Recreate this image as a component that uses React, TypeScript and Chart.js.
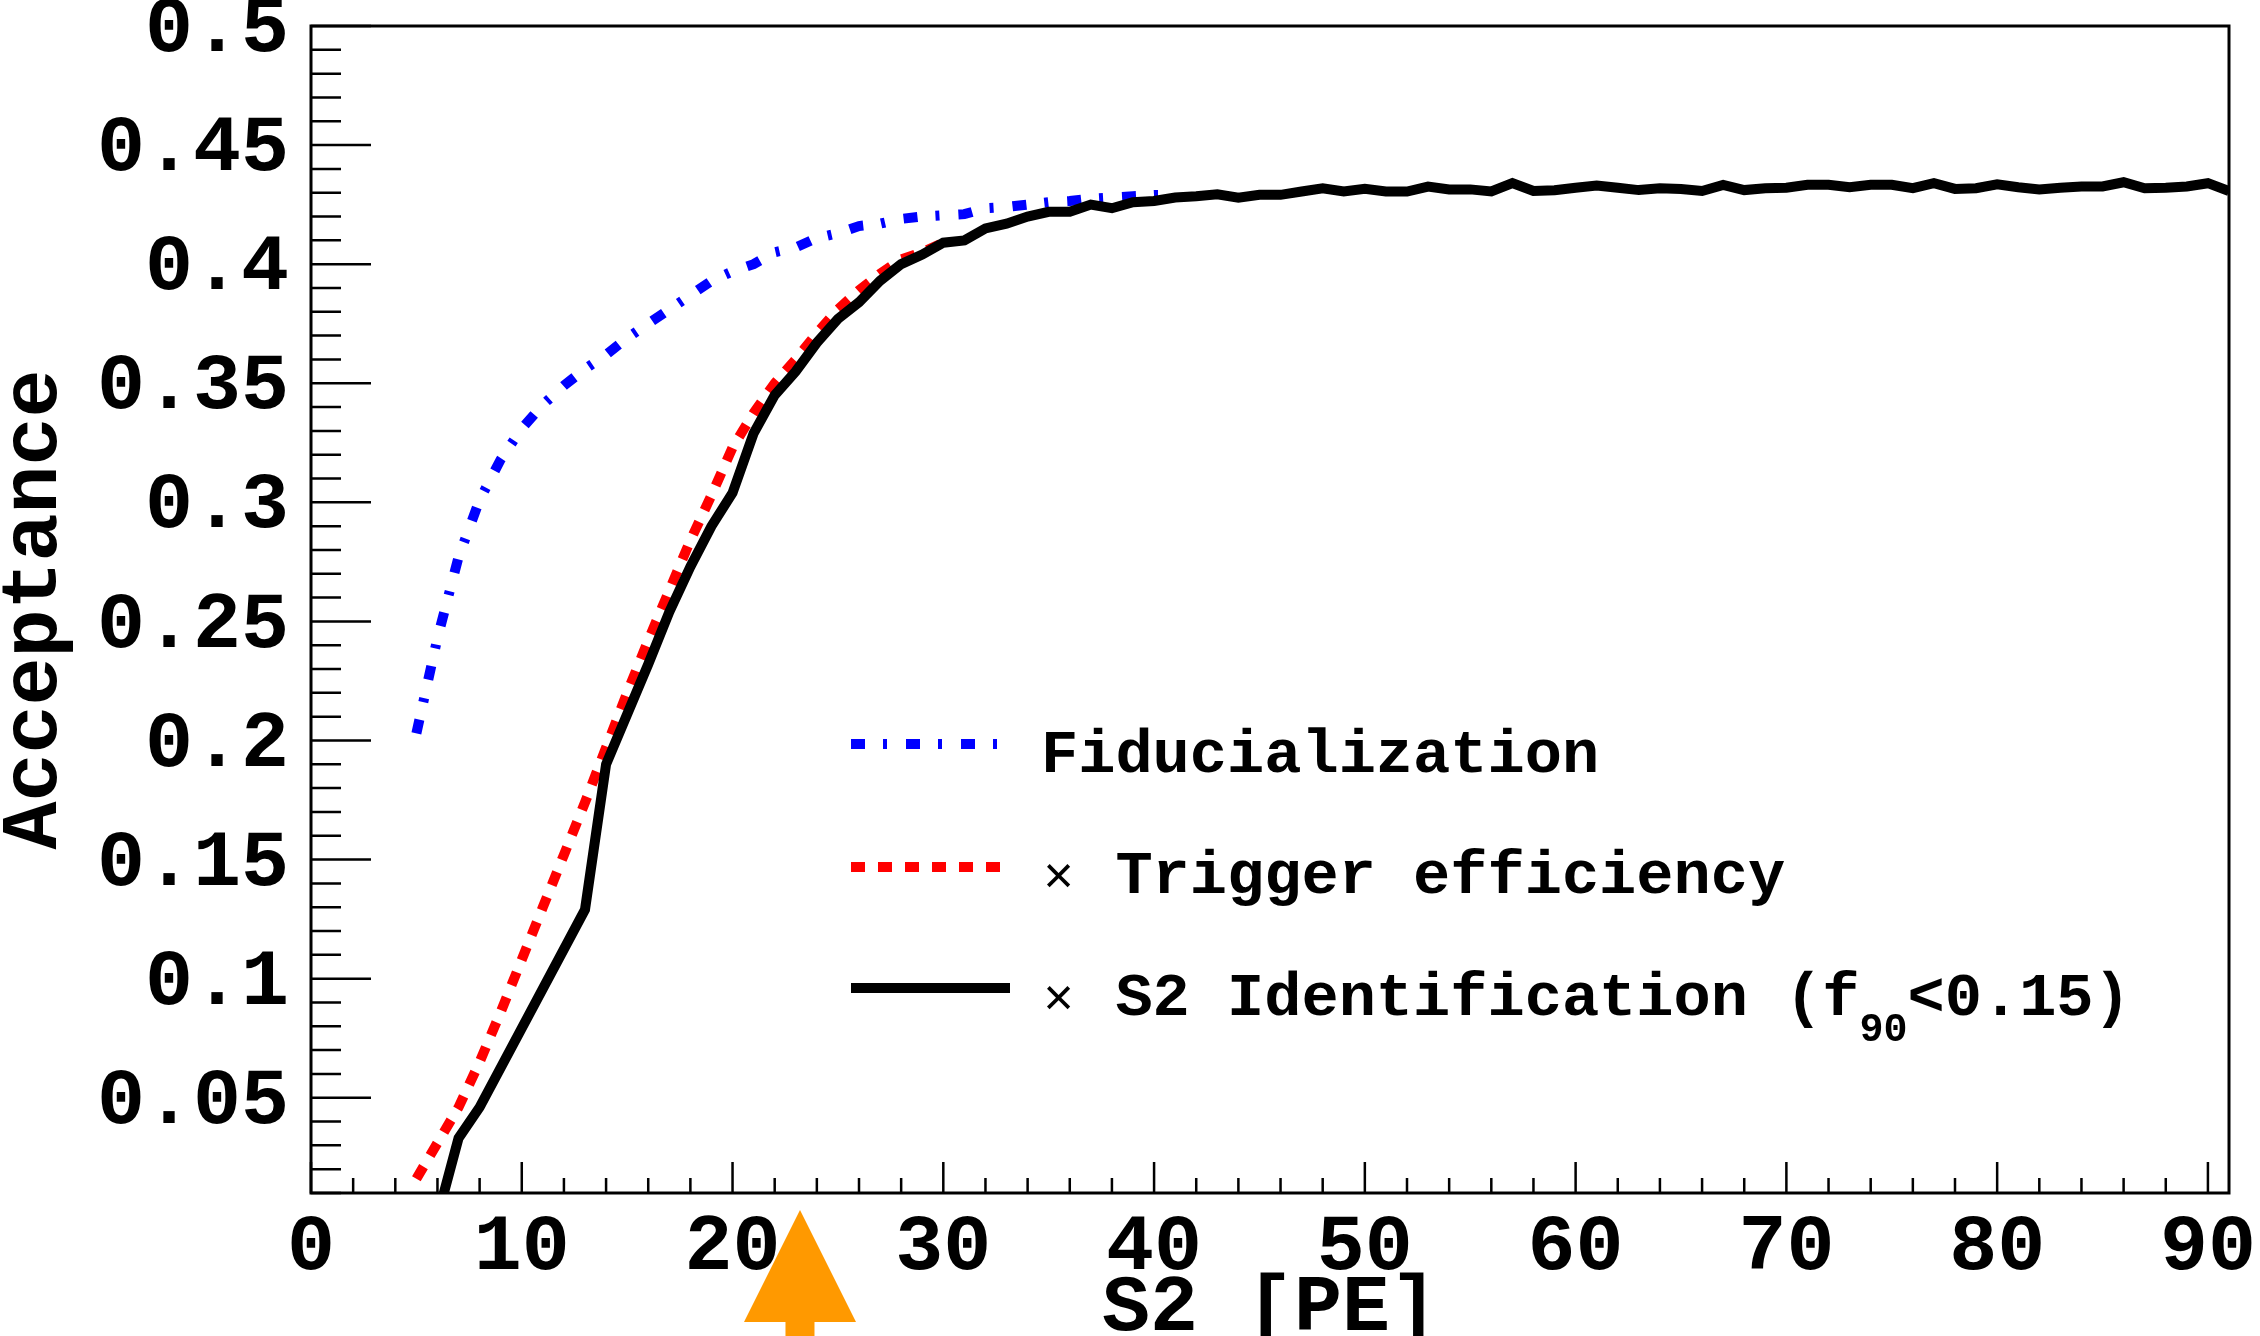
import React, { useEffect, useRef } from "react";
import { Chart, registerables } from "chart.js";

Chart.register(...registerables);

// ---- axis ranges and labelled ticks ----
const S2_MIN = 0;
const S2_MAX = 91;
const ACC_MIN = 0.01;
const ACC_MAX = 0.5;
const X_TICK_LABELS = [0, 10, 20, 30, 40, 50, 60, 70, 80, 90];
const Y_TICK_LABELS = [0.05, 0.1, 0.15, 0.2, 0.25, 0.3, 0.35, 0.4, 0.45, 0.5];
const X_MINOR_STEP = 2;
const Y_MINOR_STEP = 0.01;

// ---- Fiducialization ----
const FID_S2 = [5, 6, 7, 8, 9, 10, 11, 12, 13, 14, 15, 16, 17, 18, 19, 20, 21, 22, 23, 24, 25, 26, 27, 28, 29, 30, 31, 32, 33, 34, 35, 36, 37, 38, 39, 40, 41];
const FID_ACC = [0.203, 0.243, 0.277, 0.301, 0.318, 0.331, 0.341, 0.349, 0.356, 0.362, 0.369, 0.375, 0.381, 0.387, 0.393, 0.397, 0.4, 0.405, 0.407, 0.411, 0.413, 0.416, 0.417, 0.419, 0.42, 0.4205, 0.421, 0.4235, 0.424, 0.425, 0.426, 0.4265, 0.4275, 0.428, 0.4285, 0.429, 0.429];

// ---- x Trigger efficiency ----
const TRIG_S2 = [5, 6, 7, 8, 9, 10, 11, 12, 13, 14, 15, 16, 17, 18, 19, 20, 21, 22, 23, 24, 25, 26, 27, 28, 29, 30];
const TRIG_ACC = [0.016, 0.031, 0.046, 0.065, 0.086, 0.108, 0.13, 0.152, 0.174, 0.197, 0.22, 0.242, 0.263, 0.284, 0.303, 0.323, 0.3375, 0.35, 0.36, 0.371, 0.381, 0.389, 0.396, 0.402, 0.405, 0.409];

// ---- x S2 Identification (f90 < 0.15) ----
const S2ID_S2 = [6, 7, 8, 13, 14, 15, 16, 17, 18, 19, 20, 21, 22, 23, 24, 25, 26, 27, 28, 29, 30, 31, 32, 33, 34, 35, 36, 37, 38, 39, 40, 41, 42, 43, 44, 45, 46, 47, 48, 49, 50, 51, 52, 53, 54, 55, 56, 57, 58, 59, 60, 61, 62, 63, 64, 65, 66, 67, 68, 69, 70, 71, 72, 73, 74, 75, 76, 77, 78, 79, 80, 81, 82, 83, 84, 85, 86, 87, 88, 89, 90, 91];
const S2ID_ACC = [0.0, 0.033, 0.046, 0.129, 0.19, 0.211, 0.232, 0.254, 0.273, 0.29, 0.304, 0.329, 0.345, 0.355, 0.367, 0.377, 0.384, 0.393, 0.4, 0.404, 0.409, 0.41, 0.415, 0.417, 0.42, 0.422, 0.422, 0.425, 0.4235, 0.426, 0.4265, 0.428, 0.4285, 0.4293, 0.4279, 0.4291, 0.4291, 0.4305, 0.4319, 0.4305, 0.4316, 0.4305, 0.4305, 0.4326, 0.4314, 0.4314, 0.4305, 0.434, 0.4307, 0.431, 0.4321, 0.433, 0.4321, 0.4311, 0.4319, 0.4316, 0.4307, 0.4333, 0.4311, 0.4319, 0.4321, 0.4333, 0.4333, 0.4323, 0.4333, 0.4333, 0.4319, 0.434, 0.4316, 0.4319, 0.4335, 0.4323, 0.4314, 0.4321, 0.4326, 0.4326, 0.4344, 0.4319, 0.4321, 0.4326, 0.434, 0.4307];

// S2 threshold marked by the arrow under the axis
const ARROW_S2 = 23.2;

const FONT = "'Liberation Mono', 'DejaVu Sans Mono', monospace";
const BLUE = "rgb(0,0,255)";
const RED = "rgb(255,0,0)";
const ORANGE = "rgb(255,153,0)";
const FID_DASH = [14, 18, 4, 19];
const TRIG_DASH = [14, 13];

const toPoints = (xs: number[], ys: number[]) => xs.map((x, i) => ({ x, y: ys[i] }));

// Frame, inward tick marks, legend box and threshold arrow
const decorPlugin = {
  id: "decor",
  afterDraw(chart: any) {
    const { ctx, chartArea: a, scales } = chart;
    const xs = scales.x;
    const ys = scales.y;
    ctx.save();
    ctx.strokeStyle = "#000";
    ctx.lineCap = "butt";

    // tick marks drawn inside the frame
    ctx.lineWidth = 2.5;
    ctx.beginPath();
    for (let k = 0; k * X_MINOR_STEP <= 90; k++) {
      const v = k * X_MINOR_STEP;
      const px = xs.getPixelForValue(v);
      const len = v % 10 === 0 ? 31 : 15;
      ctx.moveTo(px, a.bottom);
      ctx.lineTo(px, a.bottom - len);
    }
    for (let k = 1; k <= 50; k++) {
      const v = k * Y_MINOR_STEP;
      const py = ys.getPixelForValue(v);
      const len = k % 5 === 0 ? 60 : 30;
      ctx.moveTo(a.left, py);
      ctx.lineTo(a.left + len, py);
    }
    ctx.stroke();

    // frame
    ctx.lineWidth = 3;
    ctx.strokeRect(a.left, a.top, a.right - a.left, a.bottom - a.top);

    // legend
    const sampleX0 = 851;
    const textX = 1041;
    const rows = [
      { lineY: 744, base: 772, color: BLUE, dash: FID_DASH, end: 998 },
      { lineY: 867, base: 893, color: RED, dash: TRIG_DASH, end: 1003 },
      { lineY: 988, base: 1015, color: "#000", dash: [] as number[], end: 1010 },
    ];
    rows.forEach((r) => {
      ctx.beginPath();
      ctx.setLineDash(r.dash);
      ctx.strokeStyle = r.color;
      ctx.lineWidth = 10;
      ctx.moveTo(sampleX0, r.lineY);
      ctx.lineTo(r.end, r.lineY);
      ctx.stroke();
    });
    ctx.setLineDash([]);
    ctx.fillStyle = "#000";
    ctx.textBaseline = "alphabetic";
    ctx.textAlign = "left";
    ctx.font = `bold 62px ${FONT}`;
    const adv = ctx.measureText("M").width;
    ctx.fillText("Fiducialization", textX, rows[0].base);

    const times = (y: number) => {
      ctx.font = `normal 52px ${FONT}`;
      ctx.fillText("\u00d7", textX + 2, y);
      ctx.font = `bold 62px ${FONT}`;
    };
    times(rows[1].base);
    ctx.fillText("Trigger efficiency", textX + 2 * adv, rows[1].base);

    times(rows[2].base);
    const main = "S2 Identification (f";
    ctx.fillText(main, textX + 2 * adv, rows[2].base);
    let cx = textX + (2 + main.length) * adv;
    ctx.font = `bold 40px ${FONT}`;
    ctx.fillText("90", cx, rows[2].base + 26);
    cx += ctx.measureText("90").width;
    ctx.font = `bold 62px ${FONT}`;
    ctx.fillText("<0.15)", cx, rows[2].base);

    // threshold arrow below the S2 axis
    const ax = xs.getPixelForValue(ARROW_S2);
    const tipY = a.bottom + 17;
    const baseY = a.bottom + 129;
    ctx.fillStyle = ORANGE;
    ctx.beginPath();
    ctx.moveTo(ax, tipY);
    ctx.lineTo(ax + 56, baseY);
    ctx.lineTo(ax - 56, baseY);
    ctx.closePath();
    ctx.fill();
    ctx.fillRect(ax - 14.5, baseY - 1, 29, chart.height - baseY + 1);

    ctx.restore();
  },
};

export default function App() {
  const canvasRef = useRef<HTMLCanvasElement | null>(null);

  useEffect(() => {
    document.body.style.margin = "0";
    document.body.style.overflow = "hidden";
    const canvas = canvasRef.current;
    if (!canvas) return;

    const chart = new Chart(canvas, {
      type: "line",
      data: {
        datasets: [
          {
            label: "x S2 Identification (f90<0.15)",
            data: toPoints(S2ID_S2, S2ID_ACC),
            borderColor: "#000",
            borderWidth: 10,
            pointRadius: 0,
            tension: 0,
            clip: 0,
            order: 0,
          },
          {
            label: "x Trigger efficiency",
            data: toPoints(TRIG_S2, TRIG_ACC),
            borderColor: RED,
            borderWidth: 10,
            borderDash: TRIG_DASH,
            pointRadius: 0,
            tension: 0,
            clip: 0,
            order: 1,
          },
          {
            label: "Fiducialization",
            data: toPoints(FID_S2, FID_ACC),
            borderColor: BLUE,
            borderWidth: 10,
            borderDash: FID_DASH,
            pointRadius: 0,
            tension: 0,
            clip: 0,
            order: 2,
          },
        ],
      },
      options: {
        responsive: false,
        devicePixelRatio: 1,
        animation: false,
        events: [],
        layout: { padding: { left: 0, right: 31, top: 26, bottom: 0 } },
        plugins: { legend: { display: false }, tooltip: { enabled: false } },
        scales: {
          x: {
            type: "linear",
            min: S2_MIN,
            max: S2_MAX,
            grid: { display: false },
            border: { display: false },
            afterBuildTicks: (s: any) => {
              s.ticks = X_TICK_LABELS.map((v) => ({ value: v }));
            },
            afterFit: (s: any) => {
              s.height = 143;
              s.paddingLeft = 0;
              s.paddingRight = 0;
            },
            ticks: {
              autoSkip: false,
              maxRotation: 0,
              padding: 0,
              color: "#000",
              font: { family: FONT, size: 80, weight: "bold" },
              callback: (v: any) => String(v),
            },
            title: {
              display: true,
              text: "S2 [PE]",
              color: "#000",
              padding: 0,
              font: { family: FONT, size: 80, weight: "bold", lineHeight: 0.65 },
            },
          },
          y: {
            type: "linear",
            min: ACC_MIN,
            max: ACC_MAX,
            grid: { display: false },
            border: { display: false },
            afterBuildTicks: (s: any) => {
              s.ticks = Y_TICK_LABELS.map((v) => ({ value: v }));
            },
            afterFit: (s: any) => {
              s.width = 311;
              s.paddingTop = 0;
              s.paddingBottom = 0;
            },
            ticks: {
              autoSkip: false,
              padding: 14,
              labelOffset: 5,
              color: "#000",
              font: { family: FONT, size: 80, weight: "bold" },
              callback: (v: any) => String(v),
            },
            title: {
              display: true,
              text: "Acceptance",
              color: "#000",
              padding: 0,
              font: { family: FONT, size: 80, weight: "bold", lineHeight: 0.9 },
            },
          },
        },
      },
      plugins: [decorPlugin],
    } as any);

    return () => chart.destroy();
  }, []);

  return (
    <div style={{ position: "absolute", left: 0, top: 0, width: 2260, height: 1336, background: "#fff" }}>
      <canvas ref={canvasRef} width={2260} height={1336} style={{ display: "block" }} />
    </div>
  );
}
